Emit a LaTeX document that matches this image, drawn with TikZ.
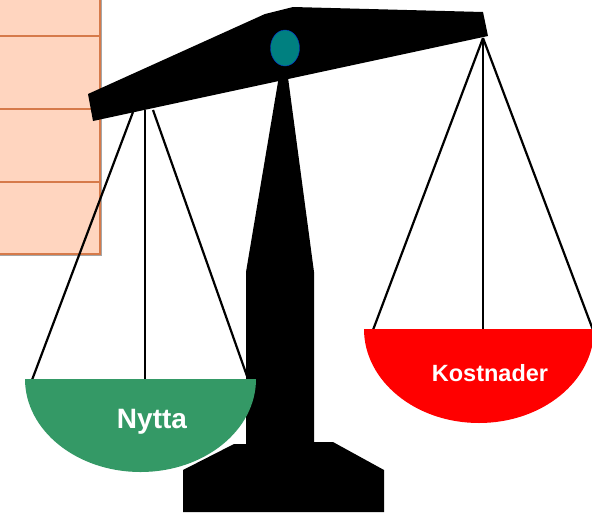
\documentclass[tikz,border=0pt]{standalone}
\usepackage{fontspec}
\setmainfont{Liberation Sans}
\definecolor{peach}{HTML}{FFD5BF}
\definecolor{rust}{HTML}{D67A4A}
\definecolor{pangreen}{HTML}{349966}
\definecolor{pivot}{HTML}{008080}
\tikzset{
  cord/.style={line width=2.2pt},
  rule/.style={rust,line width=2pt},
  panlabel/.style={text=white,font=\bfseries},
}
\begin{document}
\begin{tikzpicture}[x=1pt,y=-1pt]
  \useasboundingbox (0,0) rectangle (592,512);
  % boxes at the left
  \fill[gray!70] (-10,-10) rectangle (102,256);
  \fill[peach] (-10,-10) rectangle (100,254);
  \foreach \y in {36,109,182,254}
    \draw[rule] (-10,\y) -- (100,\y);
  \draw[rule] (100,-10) -- (100,255);
  % hooks and rims
  \draw
    (133,112) coordinate (L1)
    (145,110) coordinate (L2)
    (153,110) coordinate (L3)
    (483,38) coordinate (R)
    (32,380) coordinate (a1)
    (145,380) coordinate (a2)
    (247,376) coordinate (a3)
    (373,330) coordinate (b1)
    (483,330) coordinate (b2)
    (593,330) coordinate (b3);
  \begin{scope}[cord]
    \draw (L1) to (a1);
    \draw (L2) to (a2);
    \draw (L3) to (a3);
    \draw (R) to (b1);
    \draw (R) to (b2);
    \draw (R) to (b3);
  \end{scope}
  % stand
  \fill (183,512) -- (183,470) -- (234,444) -- (246,444) -- (246,272)
    -- (280,70) -- (287,70) -- (314,272) -- (314,442) -- (333,442)
    -- (384,470) -- (384,512) -- cycle;
  % beam
  \fill (93,121) -- (88,94) -- (265,14) -- (293,7) -- (483,12) -- (488,36) -- cycle;
  \draw[blue!60!pivot,fill=pivot] (285,48) ellipse[x radius=14.5,y radius=18];
  % pans
  \fill[pangreen] (25,379) arc[start angle=180,end angle=0,x radius=115.5,y radius=93] -- cycle;
  \fill[red] (364,329) arc[start angle=180,end angle=0,x radius=115,y radius=94] -- cycle;
  \node[panlabel,font=\bfseries\fontsize{28}{30}\selectfont] (nytta) at (152,422) {Nytta};
  \node[panlabel,font=\bfseries\fontsize{23.5}{26}\selectfont] (kostnader) at (490,373) {Kostnader};
\end{tikzpicture}
\end{document}
